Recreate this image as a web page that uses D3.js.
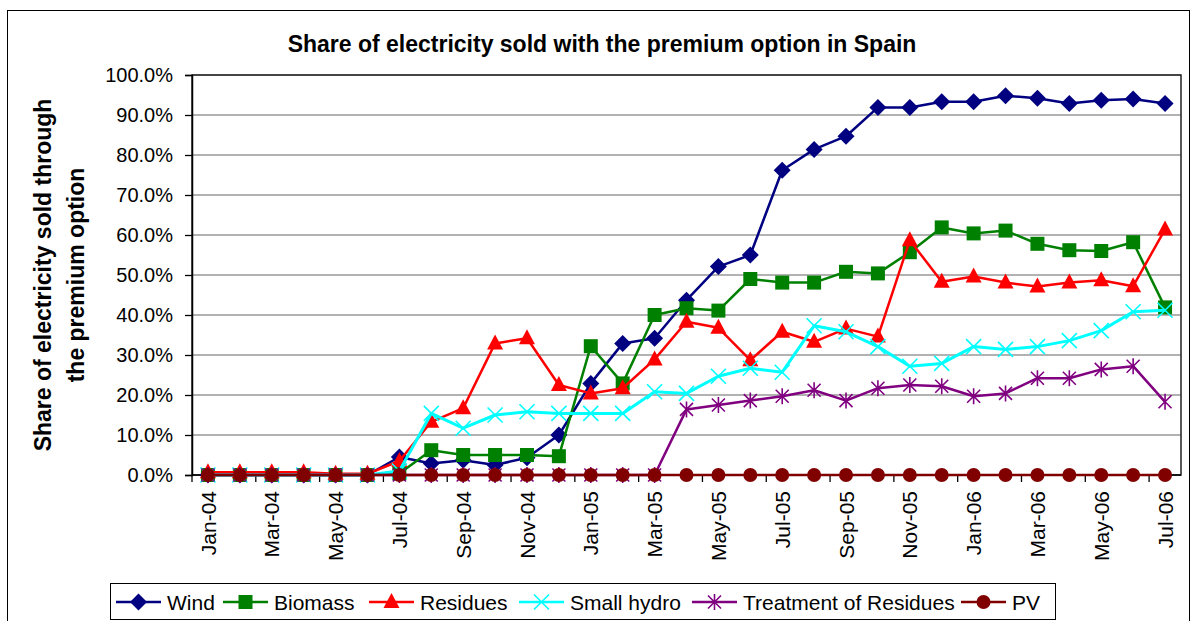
<!DOCTYPE html>
<html>
<head>
<meta charset="utf-8">
<script src="https://cdn.jsdelivr.net/npm/d3@7"></script>
<style>
body { margin: 0; background: #fff; }
text { font-family: "Liberation Sans", Arial, sans-serif; }
</style>
</head>
<body>
<script>
// Data
var months = ['Jan-04','Feb-04','Mar-04','Apr-04','May-04','Jun-04','Jul-04','Aug-04','Sep-04','Oct-04','Nov-04','Dec-04',
    'Jan-05','Feb-05','Mar-05','Apr-05','May-05','Jun-05','Jul-05','Aug-05','Sep-05','Oct-05','Nov-05','Dec-05',
    'Jan-06','Feb-06','Mar-06','Apr-06','May-06','Jun-06','Jul-06'];

var wind = [0, 0, 0, 0, 0, 0, 4.5, 2.9, 3.7, 2.5, 4.3, 10, 22.9, 32.9, 34.2, 43.7, 52.1, 55, 76.2, 81.4, 84.7,
    91.9, 91.9, 93.3, 93.3, 94.8, 94.2, 92.9, 93.7, 94, 92.9];
var biomass = [0, 0, 0, 0, 0, 0, 0.4, 6.2, 5, 5, 5, 4.7, 32.2, 22.9, 40, 41.7, 41.1, 49, 48.1, 48.1, 50.8,
    50.4, 55.7, 61.9, 60.4, 61.1, 57.8, 56.2, 56, 58.2, 41.9];
var residues = [0.7, 0.7, 0.7, 0.7, 0.3, 0.3, 3.5, 13.3, 16.7, 32.9, 34.2, 22.5, 20.4, 21.7, 28.9, 38.3, 36.8, 28.7, 35.8, 33.3, 36.6,
    34.6, 58.7, 48.3, 49.6, 48.1, 47.1, 48.1, 48.7, 47.2, 61.4];
var smallHydro = [0, 0, 0, 0, 0, 0, 1, 15.4, 11.7, 15, 15.8, 15.4, 15.4, 15.4, 20.8, 20.4, 24.7, 26.7, 25.7, 37.3, 35.8,
    32.1, 27.2, 27.9, 32.1, 31.4, 32.1, 33.6, 36.1, 40.8, 41.2];
var treatment = [0, 0, 0, 0, 0, 0, 0, 0, 0, 0, 0, 0, 0, 0, 0, 16.4, 17.5, 18.6, 19.7, 21.2, 18.6,
    21.7, 22.5, 22.2, 19.7, 20.4, 24.2, 24.2, 26.4, 27.2, 18.3];
var pv = [0, 0, 0, 0, 0, 0, 0, 0, 0, 0, 0, 0, 0, 0, 0, 0, 0, 0, 0, 0, 0,
    0, 0, 0, 0, 0, 0, 0, 0, 0, 0];

var seriesNames = ['Wind', 'Biomass', 'Residues', 'Small hydro', 'Treatment of Residues', 'PV'];
var seriesValues = [wind, biomass, residues, smallHydro, treatment, pv];
var seriesColors = ['#000080', '#008000', '#ff0000', '#00ffff', '#800080', '#800000'];
var seriesMarkers = ['diamond', 'square', 'triangle', 'x', 'star', 'circle'];
var yTicks = [0, 10, 20, 30, 40, 50, 60, 70, 80, 90, 100];

var width = 1193, height = 621;
var plotLeft = 192, plotRight = 1181, plotTop = 75, plotBottom = 475;

var svg = d3.select('body').append('svg')
    .attr('width', width)
    .attr('height', height);

svg.append('rect')
    .attr('x', 7.5).attr('y', 10.5)
    .attr('width', 1182).attr('height', 640)
    .attr('fill', 'none').attr('stroke', '#000').attr('stroke-width', 1);

var x = d3.scaleBand().domain(months).range([plotLeft, plotRight]);
var y = d3.scaleLinear().domain([0, 100]).range([plotBottom, plotTop]);

function cx(i) { return x(months[i]) + x.bandwidth() / 2; }

// gridlines
svg.append('g').selectAll('line')
    .data(yTicks.slice(1))
    .enter().append('line')
    .attr('x1', plotLeft).attr('x2', plotRight)
    .attr('y1', function(d) { return y(d); })
    .attr('y2', function(d) { return y(d); })
    .attr('stroke', '#999').attr('stroke-width', 1.3);

// plot border
svg.append('rect')
    .attr('x', plotLeft).attr('y', plotTop)
    .attr('width', plotRight - plotLeft).attr('height', plotBottom - plotTop)
    .attr('fill', 'none').attr('stroke', '#222').attr('stroke-width', 1.5);

// y axis
var yAxis = d3.axisLeft(y).tickValues(yTicks).tickSize(7).tickPadding(12)
    .tickFormat(function(d) { return d.toFixed(1) + '%'; });
var yg = svg.append('g').attr('transform', 'translate(' + plotLeft + ',0)').call(yAxis);
yg.select('.domain').attr('stroke', '#000').attr('stroke-width', 1.5);
yg.selectAll('.tick line').attr('stroke', '#000').attr('stroke-width', 1.3);
yg.selectAll('text').attr('font-size', 20).attr('fill', '#000').attr('dy', '0.34em')
    .style('font-family', '"Liberation Sans", Arial, sans-serif');

// x axis ticks every 2 categories between bands
var xTickIdx = d3.range(0, 32, 2);
svg.append('g').selectAll('line')
    .data(xTickIdx)
    .enter().append('line')
    .attr('x1', function(d) { return plotLeft + d * x.step(); })
    .attr('x2', function(d) { return plotLeft + d * x.step(); })
    .attr('y1', plotBottom).attr('y2', plotBottom + 7)
    .attr('stroke', '#000').attr('stroke-width', 1.3);
svg.append('line')
    .attr('x1', plotLeft).attr('x2', plotRight)
    .attr('y1', plotBottom).attr('y2', plotBottom)
    .attr('stroke', '#000').attr('stroke-width', 1.5);

svg.append('g').selectAll('text')
    .data(months.filter(function(m, i) { return i % 2 === 0; }))
    .enter().append('text')
    .attr('transform', function(d) {
        return 'translate(' + (x(d) + x.bandwidth() / 2) + ',' + (plotBottom + 16) + ') rotate(-90)';
    })
    .attr('text-anchor', 'end')
    .attr('dy', '0.36em')
    .attr('font-size', 21)
    .text(function(d) { return d; });

// titles
svg.append('text')
    .attr('x', 602).attr('y', 52)
    .attr('text-anchor', 'middle')
    .attr('font-size', 23).attr('font-weight', 'bold')
    .text('Share of electricity sold with the premium option in Spain');

var yTitle = svg.append('text')
    .attr('transform', 'translate(51,' + (plotTop + plotBottom) / 2 + ') rotate(-90)')
    .attr('text-anchor', 'middle')
    .attr('font-size', 23).attr('font-weight', 'bold');
yTitle.append('tspan').attr('x', 0).attr('dy', 0).text('Share of electricity sold through');
yTitle.append('tspan').attr('x', 0).attr('dy', 33).text('the premium option');

// markers
function drawMarker(g, type, color, px, py) {
    if (type === 'diamond') {
        g.append('path').attr('d', 'M' + px + ',' + (py - 8.5) + 'L' + (px + 8.5) + ',' + py + 'L' + px + ',' + (py + 8.5) + 'L' + (px - 8.5) + ',' + py + 'Z')
            .attr('fill', color);
    } else if (type === 'square') {
        g.append('rect').attr('x', px - 7).attr('y', py - 7).attr('width', 14).attr('height', 14).attr('fill', color);
    } else if (type === 'triangle') {
        g.append('path').attr('d', 'M' + px + ',' + (py - 9) + 'L' + (px + 8) + ',' + (py + 6) + 'L' + (px - 8) + ',' + (py + 6) + 'Z')
            .attr('fill', color);
    } else if (type === 'x') {
        g.append('path').attr('d', 'M' + (px - 7.5) + ',' + (py - 7.5) + 'L' + (px + 7.5) + ',' + (py + 7.5) + 'M' + (px + 7.5) + ',' + (py - 7.5) + 'L' + (px - 7.5) + ',' + (py + 7.5))
            .attr('stroke', color).attr('stroke-width', 1.6);
    } else if (type === 'star') {
        g.append('path').attr('d', 'M' + (px - 6.5) + ',' + (py - 6.5) + 'L' + (px + 6.5) + ',' + (py + 6.5) + 'M' + (px + 6.5) + ',' + (py - 6.5) + 'L' + (px - 6.5) + ',' + (py + 6.5) +
            'M' + px + ',' + (py - 8) + 'L' + px + ',' + (py + 8))
            .attr('stroke', color).attr('stroke-width', 1.6);
    } else if (type === 'circle') {
        g.append('circle').attr('cx', px).attr('cy', py).attr('r', 7).attr('fill', color);
    }
}

var line = d3.line()
    .x(function(d, i) { return cx(i); })
    .y(function(d) { return y(d); });

seriesValues.forEach(function(vals, s) {
    var g = svg.append('g');
    g.append('path')
        .attr('d', line(vals))
        .attr('fill', 'none')
        .attr('stroke', seriesColors[s])
        .attr('stroke-width', s === 3 ? 3 : 2.5)
        .attr('stroke-linejoin', 'round');
    vals.forEach(function(v, i) {
        drawMarker(g, seriesMarkers[s], seriesColors[s], cx(i), y(v));
    });
});

// legend
var legend = svg.append('g');
legend.append('rect')
    .attr('x', 110.5).attr('y', 583.5)
    .attr('width', 945).attr('height', 36)
    .attr('fill', '#fff').attr('stroke', '#000').attr('stroke-width', 1);
var legendLineX = [116, 223, 369, 519, 692, 961];
legendLineX.forEach(function(lx, s) {
    var g = legend.append('g');
    g.append('line')
        .attr('x1', lx).attr('x2', lx + 45)
        .attr('y1', 602).attr('y2', 602)
        .attr('stroke', seriesColors[s]).attr('stroke-width', 2.5);
    drawMarker(g, seriesMarkers[s], seriesColors[s], lx + 22.5, 602);
    g.append('text')
        .attr('x', lx + 51).attr('y', 610)
        .attr('font-size', 21)
        .text(seriesNames[s]);
});
</script>
</body>
</html>
